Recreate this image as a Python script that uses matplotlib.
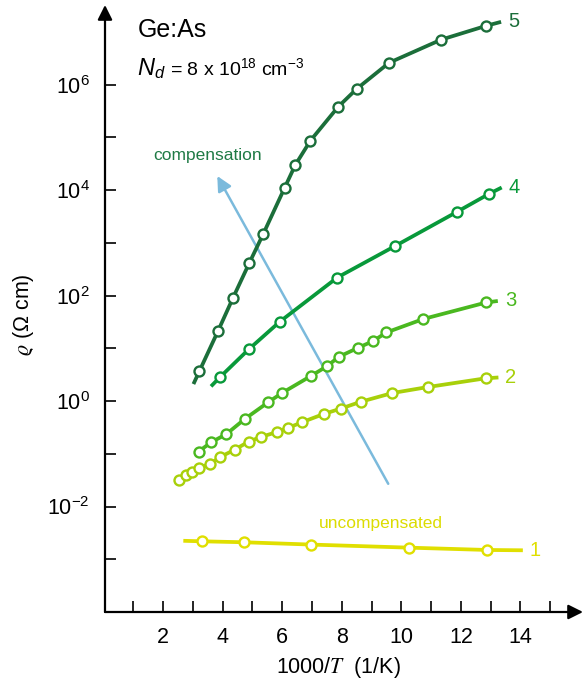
import matplotlib
matplotlib.use("Agg")
import matplotlib.pyplot as plt
import numpy as np

plt.rcParams['font.family'] = ['Liberation Sans', 'DejaVu Sans']
plt.rcParams['mathtext.fontset'] = 'custom'
plt.rcParams['mathtext.rm'] = 'Liberation Sans'
plt.rcParams['mathtext.it'] = 'Liberation Sans:italic'
plt.rcParams['mathtext.sf'] = 'Liberation Sans'

# resistivity of Ge:As vs inverse temperature, five compensation levels
x5 = [3.22, 3.84, 4.35, 4.90, 5.37, 6.08, 6.44, 6.95, 7.88, 8.50, 9.59, 11.33, 12.84]
rho5 = [3.7, 21, 91, 4.2e2, 1.5e3, 1.1e4, 3.0e4, 8.7e4, 3.8e5, 8.3e5, 2.6e6, 7.1e6, 1.3e7]
ends5 = [(3.02, 2.1), (13.35, 1.55e7)]

x4 = [3.90, 4.87, 5.92, 7.85, 9.79, 11.88, 12.93]
rho4 = [2.8, 9.5, 32, 2.2e2, 8.7e2, 3.9e3, 8.4e3]
ends4 = [(3.61, 1.9), (13.37, 1.12e4)]

x3 = [3.19, 3.62, 4.12, 4.75, 5.52, 6.00, 6.97, 7.51, 7.90, 8.56, 9.05, 9.50, 10.74, 12.85]
rho3 = [0.11, 0.166, 0.235, 0.46, 0.94, 1.43, 3.0, 4.6, 6.9, 10.3, 13.7, 20, 36, 74]
ends3 = [None, (13.24, 79)]

x2 = [2.52, 2.77, 2.97, 3.19, 3.56, 3.92, 4.41, 4.87, 5.30, 5.84, 6.20, 6.68, 7.40,
      7.97, 8.64, 9.70, 10.88, 12.83]
rho2 = [0.032, 0.039, 0.045, 0.054, 0.063, 0.087, 0.12, 0.17, 0.21, 0.26, 0.31, 0.40,
        0.57, 0.72, 0.97, 1.42, 1.84, 2.7]
ends2 = [None, (13.26, 2.8)]

x1 = [3.30, 4.73, 6.96, 10.27, 12.89]
rho1 = [2.19e-3, 2.1e-3, 1.9e-3, 1.66e-3, 1.5e-3]
ends1 = [(2.68, 2.24e-3), (14.08, 1.48e-3)]

curves = [
    ("5", x5, rho5, ends5, "#1b6e3a"),
    ("4", x4, rho4, ends4, "#08993a"),
    ("3", x3, rho3, ends3, "#4ab820"),
    ("2", x2, rho2, ends2, "#a8d00a"),
    ("1", x1, rho1, ends1, "#e0df00"),
]

xticks = list(range(1, 16))
xticklabels = [str(t) if t % 2 == 0 else "" for t in xticks]
yticks = [10.0**k for k in range(-3, 7)]
yticklabels = [r"$10^{%d}$" % k if k % 2 == 0 else "" for k in range(-3, 7)]

arrow_from = (9.56, 0.027)
arrow_to = (3.82, 1.85e4)

W, H = 585, 683
fig = plt.figure(figsize=(W / 100, H / 100), dpi=100)
ax = fig.add_axes([105 / W, 1 - 612 / H, (583 - 105) / W, (612 - 5) / H])
ax.set_yscale('log')
ax.set_xlim(0.05, 16.1)
ax.set_ylim(1e-4, 10**7.51)

for name, xs, ys, ends, col in curves:
    lx, ly = list(xs), list(ys)
    if ends[0] is not None:
        lx.insert(0, ends[0][0]); ly.insert(0, ends[0][1])
    if ends[1] is not None:
        lx.append(ends[1][0]); ly.append(ends[1][1])
    ax.plot(lx, ly, color=col, lw=2.7, solid_capstyle='butt', zorder=3)
    ax.plot(xs, ys, 'o', ms=7.2, mfc='white', mec=col, mew=1.7, zorder=4)
    ax.annotate(name, (lx[-1], ly[-1]), xytext=(5, 0), textcoords='offset points',
                ha='left', va='center', fontsize=14.5, color=col)

ax.annotate("", xy=arrow_to, xytext=arrow_from,
            arrowprops=dict(arrowstyle='-|>', color='#7bbadc', lw=1.8,
                            mutation_scale=22, shrinkA=0, shrinkB=0), zorder=2)
ax.text(3.48, 10**4.66, "compensation", color="#1f7a45", fontsize=12.5,
        ha='center', va='center')
ax.text(9.31, 10**-2.32, "uncompensated", color="#dcdc00", fontsize=12.5,
        ha='center', va='center')

# axes drawn as arrows
for s in ax.spines.values():
    s.set_visible(False)
ax.annotate("", xy=(0, 1), xytext=(0, 0), xycoords='axes fraction',
            arrowprops=dict(arrowstyle='-|>', color='black', lw=1.6,
                            mutation_scale=22, shrinkA=0, shrinkB=0))
ax.annotate("", xy=(1, 0), xytext=(0, 0), xycoords='axes fraction',
            arrowprops=dict(arrowstyle='-|>', color='black', lw=1.6,
                            mutation_scale=22, shrinkA=0, shrinkB=0))

ax.set_xticks(xticks)
ax.set_xticklabels(xticklabels)
ax.set_yticks(yticks)
ax.set_yticklabels(yticklabels)
ax.yaxis.set_minor_locator(matplotlib.ticker.NullLocator())
ax.tick_params(direction='in', length=8, width=1.2, labelsize=15.5, pad=11)

fig.text(338 / W, 1 - 667 / H, r"1000/$T$  (1/K)", fontsize=15.5, ha='center',
         va='center', math_fontfamily='stix')
fig.text(23 / W, 1 - 315 / H, r"$\varrho$ (Ω cm)", fontsize=15.5, ha='center',
         va='center', rotation=90, math_fontfamily='stix')

fig.text(138 / W, 1 - 30 / H, "Ge:As", fontsize=18, ha='left', va='center')
fig.text(137 / W, 1 - 75 / H, r"$N_d$", fontsize=17, ha='left', va='baseline')
fig.text(170 / W, 1 - 75 / H, r"= 8 x 10$^{18}$ cm$^{-3}$", fontsize=14,
         ha='left', va='baseline')

fig.savefig("out.png", dpi=100)
